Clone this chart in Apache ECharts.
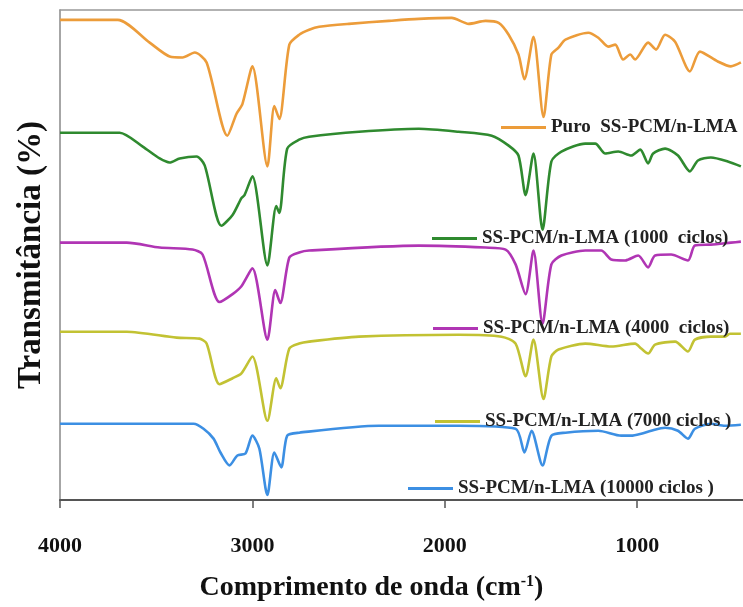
<!DOCTYPE html>
<html>
<head>
<meta charset="utf-8">
<script src="https://cdn.jsdelivr.net/npm/echarts@6/dist/echarts.min.js"></script>
<style>html,body{margin:0;padding:0;background:#fff;}#c{width:743px;height:607px;}</style>
</head>
<body>
<div id="c"></div>
<script>
// Wavenumbers (cm-1) and offset transmittance values (arbitrary stacked units)
const puroWn = [4000,3700,3534,3430,3363,3300,3238,3130,3083,3052,3000,2922,2886,2860,2808,2757,2705,2653,2498,2291,2135,1964,1876,1788,1720,1668,1617,1586,1539,1487,1446,1409,1373,1254,1202,1150,1114,1073,1036,1011,943,902,855,803,726,674,581,513,461];
const puroT  = [485,485,462,448,447,452,442,368,390,400,438,337,398,385,460,470,475,478,481,484,486,487,481,484,482,470,450,425,468,387,450,457,465,472,467,458,460,445,450,445,462,455,470,463,433,453,443,438,442];

const c1000Wn = [4000,3690,3570,3482,3430,3378,3290,3248,3161,3103,3057,3041,3000,2922,2876,2860,2819,2757,2705,2446,2135,1928,1756,1668,1617,1580,1539,1492,1446,1394,1270,1218,1166,1098,1031,984,943,917,855,788,726,684,617,529,461];
const c1000T  = [371,371,357,345,341,345,347,338,277,288,305,308,327,237,297,290,355,364,367,372,375,372,368,358,348,308,350,273,342,352,360,360,350,352,348,354,340,350,355,348,332,343,346,342,337];

const c4000Wn = [4000,3653,3482,3311,3259,3171,3103,3057,3000,2922,2881,2855,2808,2757,2705,2135,1788,1684,1632,1580,1539,1492,1446,1394,1270,1187,1135,1062,995,943,907,824,736,700,617,513,461];
const c4000T  = [260,260,255,253,248,200,208,216,234,162,212,199,245,250,252,257,255,253,238,208,252,178,238,247,252,252,243,242,247,235,247,248,242,257,258,260,261];

const c7000Wn = [4000,3653,3394,3275,3238,3171,3103,3057,3000,2922,2876,2855,2808,2757,2705,2446,1928,1705,1632,1580,1539,1487,1446,1409,1270,1135,1011,979,943,907,803,736,700,617,544,518,461];
const c7000T  = [170,170,164,163,158,117,123,128,145,80,123,113,153,158,160,165,167,165,158,125,162,102,145,152,158,155,158,153,148,157,160,150,162,165,165,168,168];

const c10000Wn = [4000,3306,3254,3202,3166,3119,3078,3036,3000,2964,2922,2886,2850,2819,2757,2342,1928,1632,1586,1549,1492,1446,1373,1202,1083,1031,979,927,855,788,736,700,617,544,461];
const c10000T  = [77,77,72,62,48,35,45,47,65,52,5,48,33,65,68,75,75,72,48,70,35,65,68,70,65,65,67,70,73,70,62,72,77,75,76];

const seriesNames = ['Puro  SS-PCM/n-LMA','SS-PCM/n-LMA (1000  ciclos)','SS-PCM/n-LMA (4000  ciclos)','SS-PCM/n-LMA (7000 ciclos )','SS-PCM/n-LMA (10000 ciclos )'];
const seriesColors = ['#EC9C3A','#2F8A2F','#B035B4','#C2C233','#3C8FE3'];
const xTicks = [1000,2000,3000,4000];

const wnArr = [puroWn,c1000Wn,c4000Wn,c7000Wn,c10000Wn];
const tArr = [puroT,c1000T,c4000T,c7000T,c10000T];

const legendPos = [[496,113],[427,224],[428,314],[430,407],[403,474]];

const serif = '"Liberation Serif","Times New Roman",serif';
const chart = echarts.init(document.getElementById('c'));
chart.setOption({
  animation:false,
  backgroundColor:'#fff',
  grid:{left:60,right:0,top:10,bottom:102},
  legend: seriesNames.map((n,i)=>({
    data:[n], left:legendPos[i][0], top:legendPos[i][1], icon:'rect', itemWidth:45, itemHeight:3,
    selectedMode:false,
    textStyle:{fontFamily:serif,fontWeight:'bold',fontSize:19,color:'#222'}
  })),
  xAxis:[{
    type:'value', min:450, max:4000, inverse:true, position:'bottom',
    name:'Comprimento de onda (cm{sup|-1})', nameLocation:'middle', nameGap:74,
    nameTextStyle:{fontFamily:serif,fontWeight:'bold',fontSize:28,color:'#111',padding:[0,60,0,0],
      rich:{sup:{fontFamily:serif,fontWeight:'bold',fontSize:16,verticalAlign:'top',padding:[0,0,12,0],color:'#111'}}},
    splitLine:{show:false},
    axisLine:{lineStyle:{color:'#555',width:2}},
    axisTick:{customValues:xTicks,length:8,lineStyle:{color:'#555',width:1.5}},
    axisLabel:{customValues:xTicks,formatter:v=>String(v),margin:35,fontFamily:serif,fontWeight:'bold',fontSize:22,color:'#111'}
  },{
    type:'value', min:450, max:4000, inverse:true, position:'top',
    axisLine:{show:true,lineStyle:{color:'#999',width:1.5}},
    axisTick:{show:false}, axisLabel:{show:false}, splitLine:{show:false}
  }],
  yAxis:{
    type:'value', min:0, max:495,
    name:'Transmitância (%)', nameLocation:'middle', nameGap:12, nameRotate:90,
    nameTextStyle:{fontFamily:serif,fontWeight:'bold',fontSize:33,color:'#111'},
    axisLine:{show:true,lineStyle:{color:'#888',width:1.5}},
    axisTick:{show:false}, axisLabel:{show:false}, splitLine:{show:false}
  },
  series: seriesNames.map((n,i)=>({
    name:n, type:'line', xAxisIndex:0, showSymbol:false, smooth:0.25,
    color:seriesColors[i],
    lineStyle:{width:2.6,color:seriesColors[i]},
    data: wnArr[i].map((w,j)=>[w,tArr[i][j]])
  }))
});
</script>
</body>
</html>
